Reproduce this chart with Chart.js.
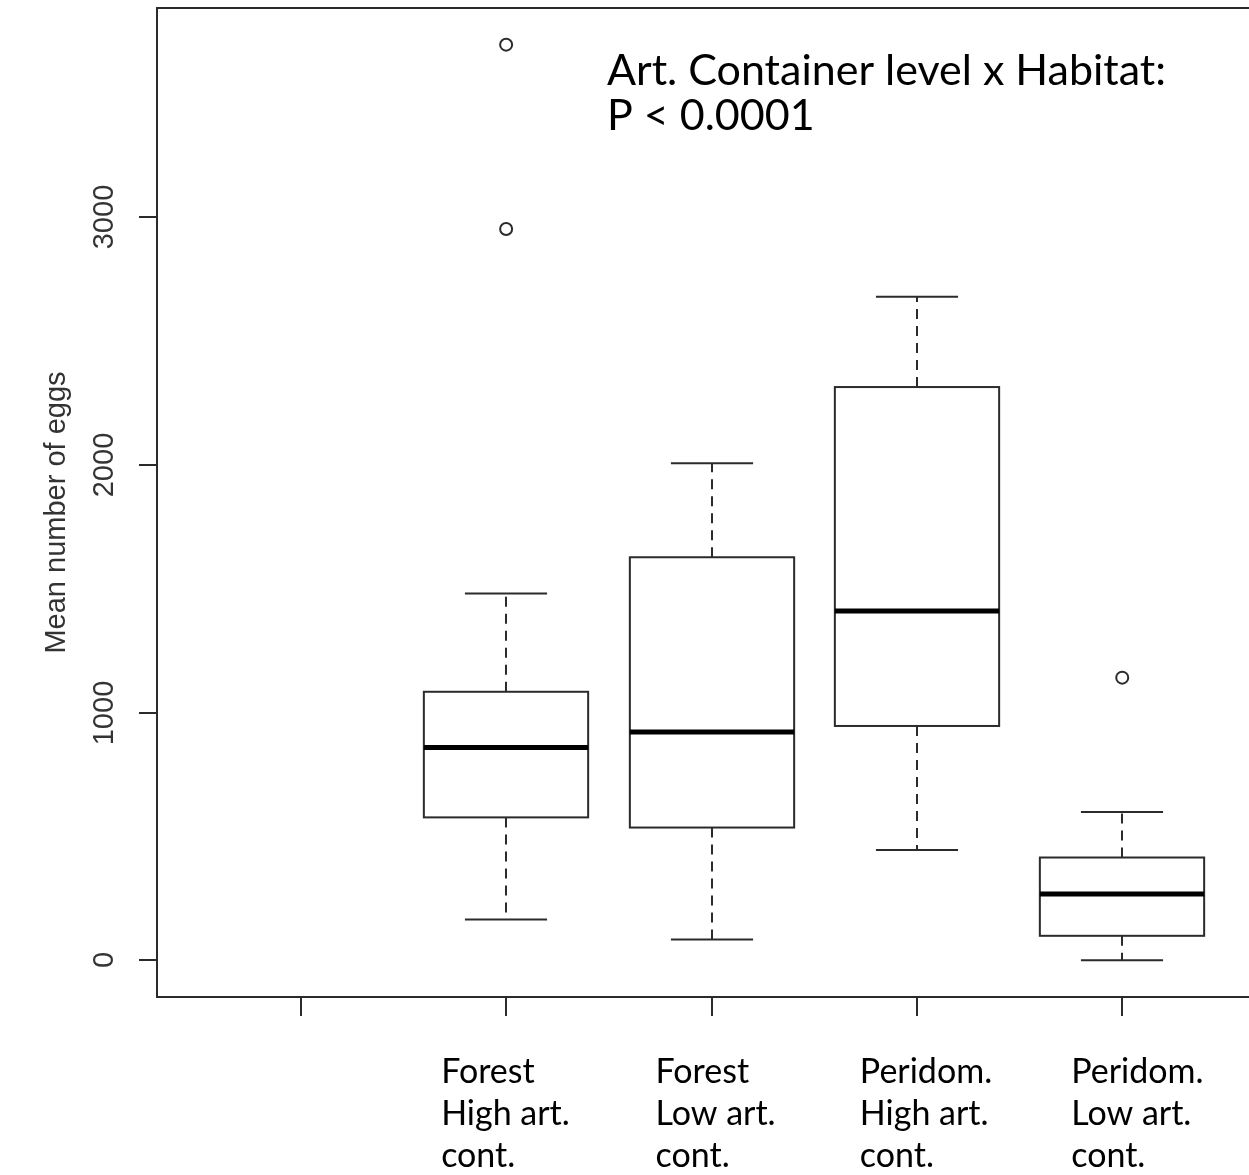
<!DOCTYPE html>
<html>
<head>
<meta charset="utf-8">
<script src="https://cdn.jsdelivr.net/npm/chart.js@4.4.1/dist/chart.umd.min.js"></script>
<style>
  html, body { margin: 0; padding: 0; background: #fff; overflow: hidden; width: 1249px; height: 1175px; }
  canvas { display: block; }
</style>
</head>
<body>
<canvas id="chart" width="1280" height="1175"></canvas>
<script>
// Group positions on the x axis (position 1 is an empty slot)
const positions = [1, 2, 3, 4, 5];
const groupLabels = [
  [],
  ['Forest', 'High art.', 'cont.'],
  ['Forest', 'Low art.', 'cont.'],
  ['Peridom.', 'High art.', 'cont.'],
  ['Peridom.', 'Low art.', 'cont.']
];

// Five-number summaries per group
const whiskerLow  = [null, 165,  84,  445,   0];
const lowerQuart  = [null, 577,  536, 946,  99];
const medians     = [null, 859,  922, 1410, 268];
const upperQuart  = [null, 1084, 1627, 2314, 415];
const whiskerHigh = [null, 1481, 2006, 2678, 599];
const outliers    = [[], [2952, 3696], [], [], [1141]];

const yTicks = [0, 1000, 2000, 3000];
const yTitle = 'Mean number of eggs';
const noteLines = ['Art. Container level x Habitat:', 'P < 0.0001'];

const outlierPoints = [];
positions.forEach((p, i) => outliers[i].forEach(v => outlierPoints.push({ x: p, y: v })));

const INK = '#2b2b2b';
const LABEL_FONT = '"Lato", "Open Sans", sans-serif';
// left edge of each text block relative to its tick, in pixels
const labelShift = [0, -65, -56, -57, -51];

const boxplotPlugin = {
  id: 'boxplot',
  beforeDatasetsDraw(chart) {
    const { ctx, chartArea: a, scales: { x, y } } = chart;
    ctx.save();

    // plot frame
    ctx.strokeStyle = INK;
    ctx.lineWidth = 2;
    ctx.strokeRect(a.left, a.top, a.right - a.left, a.bottom - a.top);

    // y ticks and rotated tick labels
    ctx.fillStyle = '#333';
    ctx.font = '29px "Liberation Sans", Arial, sans-serif';
    ctx.textAlign = 'center';
    ctx.textBaseline = 'middle';
    yTicks.forEach(t => {
      const py = Math.round(y.getPixelForValue(t));
      ctx.beginPath();
      ctx.moveTo(a.left - 18, py);
      ctx.lineTo(a.left, py);
      ctx.stroke();
      ctx.save();
      ctx.translate(a.left - 52, py);
      ctx.rotate(-Math.PI / 2);
      ctx.fillText(String(t), 0, 0);
      ctx.restore();
    });

    // y axis title
    ctx.save();
    ctx.translate(a.left - 100, (a.top + a.bottom) / 2 + 10);
    ctx.rotate(-Math.PI / 2);
    ctx.fillText(yTitle, 0, 0);
    ctx.restore();

    // x ticks
    positions.forEach(p => {
      const px = Math.round(x.getPixelForValue(p));
      ctx.beginPath();
      ctx.moveTo(px, a.bottom);
      ctx.lineTo(px, a.bottom + 19);
      ctx.stroke();
    });

    // group labels under the axis
    ctx.fillStyle = '#000';
    ctx.font = '34px ' + LABEL_FONT;
    ctx.textAlign = 'left';
    ctx.textBaseline = 'alphabetic';
    positions.forEach((p, i) => {
      const px = x.getPixelForValue(p) + labelShift[i];
      groupLabels[i].forEach((line, k) => ctx.fillText(line, px, a.bottom + 86 + k * 42));
    });

    // boxes, whiskers and medians
    positions.forEach((p, i) => {
      if (medians[i] === null) return;
      const cx = Math.round(x.getPixelForValue(p));
      const half = x.getPixelForValue(p + 0.4) - x.getPixelForValue(p);
      const cap = half / 2;
      const yLo = y.getPixelForValue(whiskerLow[i]);
      const yQ1 = y.getPixelForValue(lowerQuart[i]);
      const yMed = y.getPixelForValue(medians[i]);
      const yQ3 = y.getPixelForValue(upperQuart[i]);
      const yHi = y.getPixelForValue(whiskerHigh[i]);

      ctx.strokeStyle = INK;
      ctx.lineWidth = 2;
      // dashed whiskers
      ctx.setLineDash([10, 7]);
      ctx.beginPath();
      ctx.moveTo(cx, yQ3); ctx.lineTo(cx, yHi);
      ctx.moveTo(cx, yQ1); ctx.lineTo(cx, yLo);
      ctx.stroke();
      ctx.setLineDash([]);
      // caps
      ctx.beginPath();
      ctx.moveTo(cx - cap, yHi); ctx.lineTo(cx + cap, yHi);
      ctx.moveTo(cx - cap, yLo); ctx.lineTo(cx + cap, yLo);
      ctx.stroke();
      // box
      ctx.strokeRect(cx - half, yQ3, 2 * half, yQ1 - yQ3);
      // median
      ctx.strokeStyle = '#000';
      ctx.lineWidth = 5;
      ctx.beginPath();
      ctx.moveTo(cx - half, yMed); ctx.lineTo(cx + half, yMed);
      ctx.stroke();
    });

    // annotation
    ctx.fillStyle = '#000';
    ctx.font = '43px ' + LABEL_FONT;
    ctx.textAlign = 'left';
    noteLines.forEach((line, k) => ctx.fillText(line, 607, 85 + k * 45));

    ctx.restore();
  }
};

new Chart(document.getElementById('chart'), {
  type: 'scatter',
  data: {
    datasets: [{
      data: outlierPoints,
      pointStyle: 'circle',
      radius: 6,
      borderWidth: 2,
      borderColor: INK,
      backgroundColor: 'rgba(0,0,0,0)'
    }]
  },
  options: {
    responsive: false,
    maintainAspectRatio: false,
    devicePixelRatio: 1,
    animation: false,
    layout: { padding: { left: 157, top: 6, right: 14, bottom: 178 } },
    plugins: { legend: { display: false }, tooltip: { enabled: false } },
    scales: {
      x: { type: 'linear', min: 0.3, max: 5.7, display: false },
      y: { type: 'linear', min: -148, max: 3844, display: false }
    }
  },
  plugins: [boxplotPlugin]
});
</script>
</body>
</html>
